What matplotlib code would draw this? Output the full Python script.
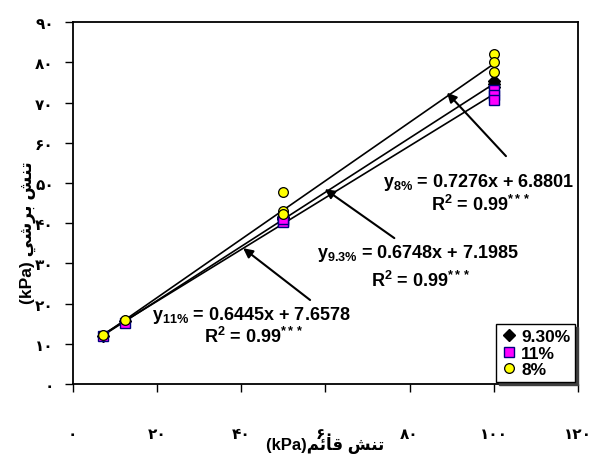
import matplotlib
matplotlib.use("Agg")
import matplotlib.pyplot as plt
import numpy as np

plt.rcParams['mathtext.fontset'] = 'custom'
plt.rcParams['mathtext.rm'] = 'Liberation Sans:bold'
plt.rcParams['mathtext.it'] = 'Liberation Sans:bold'
plt.rcParams['mathtext.bf'] = 'Liberation Sans:bold'
plt.rcParams['font.family'] = ['Liberation Sans', 'DejaVu Sans']

# ---- data ----
x_93 = [7.2, 12.5, 50, 50, 50, 100, 100, 100]
y_93 = [12.0, 15.6, 41.3, 41.0, 41.6, 75.5, 74.6, 74.0]
x_11 = [7.2, 12.5, 50, 50, 50, 100, 100, 100]
y_11 = [12.0, 15.2, 40.6, 40.3, 41.0, 73.1, 71.9, 70.6]
x_8 = [7.2, 12.5, 50, 50, 50, 100, 100, 100]
y_8 = [12.3, 16.0, 47.7, 43.1, 42.3, 82.1, 80.0, 77.7]
series_labels = ['9.30%', '11%', '8%']
slopes = [0.6748, 0.6445, 0.7276]
intercepts = [7.1985, 7.6578, 6.8801]
x_ticks = [0, 20, 40, 60, 80, 100, 120]
x_tick_labels = ['۰', '۲۰', '۴۰', '۶۰', '۸۰', '۱۰۰', '۱۲۰']
y_ticks = [0, 10, 20, 30, 40, 50, 60, 70, 80, 90]
y_tick_labels = ['۰', '۱۰', '۲۰', '۳۰', '۴۰', '۵۰', '۶۰', '۷۰', '۸۰', '۹۰']
# Persian labels in visual (shaped) order
x_label = '(kPa)' + '\uFEE2\uFE8B\uFE8E\uFED7 \uFEB6\uFEE8\uFE97'
y_label = '(kPa) ' + '\uFEF2\uFEB7\uFEAE\uFE91 \uFEB6\uFEE8\uFE97'

fig = plt.figure(figsize=(5.91, 4.56), dpi=100)
W, H = 591, 456
L, R, T, B = 72.5, 578, 23.3, 385
ax = fig.add_axes([L / W, 1 - B / H, (R - L) / W, (B - T) / H])
ax.set_xlim(0, 120)
ax.set_ylim(0, 90)

# trend lines
for xs, m, c in [(x_93, slopes[0], intercepts[0]), (x_11, slopes[1], intercepts[1]), (x_8, slopes[2], intercepts[2])]:
    xx = np.array([min(xs), max(xs)])
    ax.plot(xx, m * xx + c, color='black', lw=1.2, zorder=2)

h1, = ax.plot(x_93, y_93, 'D', ms=6.5, mfc='black', mec='black', ls='none', zorder=3, label=series_labels[0])
h2, = ax.plot(x_11, y_11, 's', ms=6.5, mfc='#FF00FF', mec='#000080', mew=1.0, ls='none', zorder=4, label=series_labels[1])
h3, = ax.plot(x_8, y_8, 'o', ms=7, mfc='#FFFF00', mec='black', mew=0.9, ls='none', zorder=5, label=series_labels[2])

ax.set_xticks(x_ticks)
ax.set_xticklabels(x_tick_labels, fontsize=11, fontweight='bold', family=['DejaVu Sans'])
ax.set_yticks(y_ticks)
ax.set_yticklabels(y_tick_labels, fontsize=11, fontweight='bold', family=['DejaVu Sans'])
ax.tick_params(axis='x', direction='out', length=6, width=1, pad=24)
ax.tick_params(axis='y', direction='out', length=5.5, width=1, pad=8)
for s in ax.spines.values():
    s.set_linewidth(1.3)
    s.set_color('black')

ax.set_xlabel(x_label, fontsize=12, fontweight='bold')
ax.xaxis.set_label_coords(0.5, (385 - 437) / 361.7)
ax.set_ylabel(y_label, fontsize=12.5, fontweight='bold')
ax.yaxis.set_label_coords((36 - 72.5) / 505.5, (385 - 232.5) / 361.7)

tfs = 13
ax.text(73.6, 50.5, r'$\mathrm{y}_{8\%}$ = 0.7276x + 6.8801', fontsize=tfs, fontweight='bold', ha='left', va='center')
ax.text(97, 44.8, r'R$^{2}$ = 0.99$^{***}$', fontsize=tfs, fontweight='bold', ha='center', va='center')
ax.text(58.0, 32.8, r'$\mathrm{y}_{9.3\%}$ = 0.6748x + 7.1985', fontsize=tfs, fontweight='bold', ha='left', va='center')
ax.text(82.7, 25.9, r'R$^{2}$ = 0.99$^{***}$', fontsize=tfs, fontweight='bold', ha='center', va='center')
ax.text(18.8, 17.4, r'$\mathrm{y}_{11\%}$ = 0.6445x + 7.6578', fontsize=tfs, fontweight='bold', ha='left', va='center')
ax.text(43.0, 11.9, r'R$^{2}$ = 0.99$^{***}$', fontsize=tfs, fontweight='bold', ha='center', va='center')

ap = dict(arrowstyle='-|>', color='black', lw=1.5, mutation_scale=14, shrinkA=0, shrinkB=0)
ax.annotate('', xy=(88.9, 72.5), xytext=(102.9, 56.7), arrowprops=ap)
ax.annotate('', xy=(59.9, 48.5), xytext=(76.4, 36.3), arrowprops=ap)
ax.annotate('', xy=(40.5, 33.8), xytext=(56.4, 20.9), arrowprops=ap)

leg = ax.legend(handles=[h1, h2, h3], loc='lower left', bbox_to_anchor=((496 - L) / (R - L), 0.006),
                borderaxespad=0, frameon=True, fancybox=False,
                shadow={'color': '#404040', 'alpha': 1.0},
                prop={'family': 'Liberation Sans', 'weight': 'bold', 'size': 12.5},
                handletextpad=0.2, handlelength=1.0, borderpad=0.25, labelspacing=0.1)
leg.get_frame().set_edgecolor('black')
leg.get_frame().set_linewidth(1.0)

fig.savefig('out.png', dpi=100)
